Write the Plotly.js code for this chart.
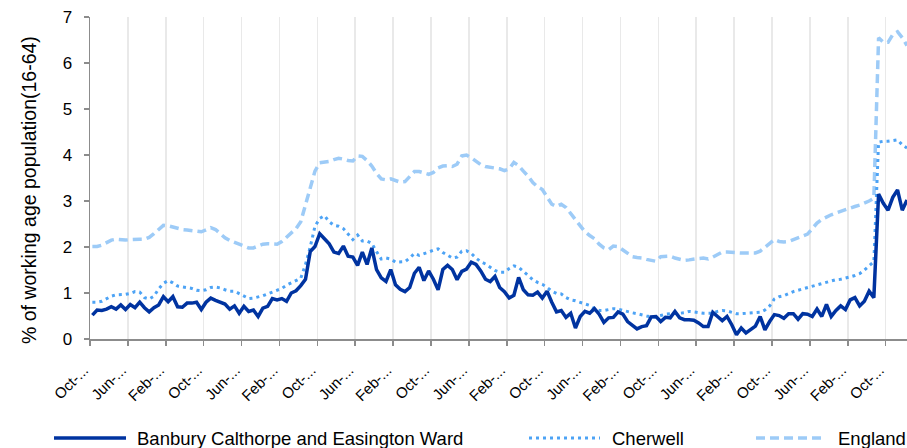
<!DOCTYPE html>
<html>
<head>
<meta charset="utf-8">
<script src="https://cdn.plot.ly/plotly-3.0.1.min.js"></script>
<style>
html,body{margin:0;padding:0;background:#ffffff;}
#chart{width:907px;height:448px;}
</style>
</head>
<body>
<div id="chart"></div>
<script>
// ---- Data ----
const tickLabels = [
  'Oct-...','Jun-...','Feb-...','Oct-...','Jun-...','Feb-...','Oct-...','Jun-...',
  'Feb-...','Oct-...','Jun-...','Feb-...','Oct-...','Jun-...','Feb-...','Oct-...',
  'Jun-...','Feb-...','Oct-...','Jun-...','Feb-...','Oct-...'
];

const seriesNames = ['Banbury Calthorpe and Easington Ward', 'Cherwell', 'England'];
const yTitle = '% of working age population(16-64)';

const banbury = [
  0.52,0.63,0.62,0.65,0.70,0.65,0.74,0.64,0.75,0.68,
  0.80,0.68,0.59,0.68,0.74,0.92,0.81,0.92,0.70,0.69,
  0.78,0.78,0.80,0.64,0.80,0.89,0.84,0.79,0.76,0.65,
  0.72,0.56,0.71,0.60,0.63,0.49,0.67,0.71,0.88,0.85,
  0.88,0.82,1.00,1.05,1.16,1.30,1.90,2.01,2.29,2.18,
  2.07,1.89,1.86,2.02,1.80,1.78,1.60,1.89,1.62,1.98,
  1.51,1.33,1.25,1.51,1.18,1.08,1.03,1.12,1.43,1.56,
  1.27,1.48,1.30,1.07,1.51,1.60,1.51,1.29,1.47,1.52,
  1.67,1.62,1.48,1.30,1.25,1.36,1.12,1.03,0.89,0.95,
  1.34,1.07,0.96,0.95,1.02,0.89,1.04,0.80,0.59,0.62,
  0.47,0.56,0.24,0.49,0.60,0.56,0.66,0.54,0.36,0.46,
  0.47,0.59,0.54,0.38,0.30,0.22,0.27,0.29,0.48,0.49,
  0.38,0.47,0.46,0.60,0.46,0.42,0.42,0.41,0.35,0.27,
  0.27,0.58,0.49,0.40,0.49,0.31,0.09,0.24,0.13,0.20,
  0.28,0.49,0.20,0.38,0.53,0.51,0.45,0.55,0.55,0.43,
  0.55,0.54,0.49,0.65,0.49,0.75,0.49,0.62,0.72,0.64,
  0.85,0.90,0.72,0.82,1.04,0.90,3.15,2.95,2.80,3.08,
  3.24,2.80,3.02
];

const cherwell = [
  0.80,0.80,0.82,0.88,0.93,0.96,0.96,0.97,0.99,1.03,
  1.02,0.90,0.87,0.93,1.09,1.21,1.27,1.22,1.15,1.13,
  1.12,1.10,1.06,1.05,1.07,1.12,1.13,1.11,1.07,1.04,
  1.04,0.99,0.93,0.88,0.89,0.91,0.94,0.98,1.02,1.06,
  1.10,1.17,1.22,1.27,1.32,1.62,2.00,2.45,2.62,2.68,
  2.55,2.47,2.45,2.40,2.28,2.16,2.26,2.13,2.13,2.08,
  1.90,1.74,1.76,1.74,1.67,1.67,1.68,1.76,1.86,1.82,
  1.85,1.89,1.93,1.96,1.88,1.82,1.76,1.78,1.91,1.92,
  1.86,1.76,1.68,1.63,1.56,1.49,1.45,1.45,1.53,1.59,
  1.56,1.47,1.37,1.29,1.23,1.19,1.12,1.04,0.99,0.98,
  0.90,0.85,0.83,0.80,0.77,0.73,0.66,0.62,0.62,0.64,
  0.66,0.65,0.62,0.60,0.57,0.55,0.52,0.50,0.48,0.48,
  0.51,0.54,0.55,0.55,0.56,0.57,0.60,0.59,0.57,0.56,
  0.56,0.56,0.60,0.62,0.61,0.58,0.55,0.55,0.56,0.57,
  0.57,0.58,0.63,0.72,0.87,0.92,0.94,0.99,1.03,1.06,
  1.09,1.12,1.14,1.18,1.21,1.24,1.27,1.29,1.30,1.32,
  1.35,1.38,1.42,1.50,1.58,1.68,4.28,4.30,4.30,4.32,
  4.33,4.22,4.15
];

const england = [
  2.01,2.01,2.04,2.10,2.15,2.17,2.16,2.15,2.16,2.17,
  2.17,2.17,2.21,2.29,2.39,2.47,2.46,2.43,2.40,2.38,
  2.37,2.36,2.34,2.33,2.37,2.42,2.38,2.28,2.20,2.14,
  2.10,2.06,2.02,1.98,1.98,2.03,2.06,2.07,2.06,2.06,
  2.12,2.22,2.31,2.40,2.55,2.90,3.30,3.65,3.83,3.84,
  3.86,3.90,3.93,3.91,3.88,3.87,3.98,3.97,3.88,3.76,
  3.60,3.48,3.46,3.48,3.44,3.41,3.42,3.54,3.64,3.64,
  3.61,3.58,3.62,3.72,3.76,3.77,3.75,3.80,3.98,4.00,
  3.94,3.86,3.79,3.75,3.73,3.72,3.70,3.66,3.70,3.84,
  3.77,3.65,3.54,3.40,3.31,3.25,3.08,2.93,2.88,2.93,
  2.86,2.72,2.59,2.46,2.33,2.25,2.18,2.06,1.98,1.94,
  2.02,2.01,1.94,1.86,1.79,1.77,1.76,1.73,1.71,1.69,
  1.79,1.80,1.80,1.76,1.73,1.71,1.72,1.74,1.75,1.76,
  1.74,1.78,1.84,1.89,1.89,1.88,1.88,1.87,1.87,1.87,
  1.87,1.91,2.00,2.07,2.16,2.12,2.11,2.12,2.16,2.20,
  2.23,2.28,2.40,2.52,2.60,2.66,2.70,2.74,2.78,2.82,
  2.85,2.88,2.91,2.95,3.00,3.06,6.55,6.45,6.45,6.62,
  6.68,6.55,6.38
];

// ---- Styles ----
const FONT = 'Liberation Sans, Arial, Helvetica, sans-serif';
const C_BANBURY = '#0033a0';
const C_CHERWELL = '#4da3f5';
const C_ENGLAND = '#9dcbf7';
const AXIS = '#8c8c8c';

const idx = banbury.map((_, i) => i);
const tickPos = tickLabels.map((_, m) => m * 8 - 0.5);

const lineStyles = [
  {color: C_BANBURY, width: 3.5, dash: 'solid'},
  {color: C_CHERWELL, width: 3, dash: '3px,4px'},
  {color: C_ENGLAND, width: 3.5, dash: '9px,5px'}
];

const traces = [
  {x: idx, y: england, type: 'scatter', mode: 'lines', name: seriesNames[2], line: lineStyles[2]},
  {x: idx, y: cherwell, type: 'scatter', mode: 'lines', name: seriesNames[1], line: lineStyles[1]},
  {x: idx, y: banbury, type: 'scatter', mode: 'lines', name: seriesNames[0], line: lineStyles[0]}
];

// plot area in px (for the hand-drawn legend and the axis title)
const L = 90, R = 907, T = 17, B = 339;
const px = v => (v - L) / (R - L);
const py = v => (B - v) / (B - T);
const legY = py(438);
const legendItems = [
  {x0: 54, x1: 126, tx: 135, style: lineStyles[0], name: seriesNames[0]},
  {x0: 529, x1: 600, tx: 610, style: lineStyles[1], name: seriesNames[1]},
  {x0: 756, x1: 823, tx: 836, style: lineStyles[2], name: seriesNames[2]}
];

const shapes = legendItems.map(it => ({
  type: 'line', xref: 'paper', yref: 'paper',
  x0: px(it.x0), x1: px(it.x1), y0: legY, y1: legY,
  line: {color: it.style.color, width: it.style.width, dash: it.style.dash}
}));
const annotations = legendItems.map(it => ({
  xref: 'paper', yref: 'paper', x: px(it.tx), y: legY,
  xanchor: 'left', yanchor: 'middle', showarrow: false,
  text: it.name, font: {family: FONT, size: 18.5, color: '#000000'}
}));
annotations.push({
  xref: 'paper', yref: 'paper', x: px(29), y: py(190),
  xanchor: 'center', yanchor: 'middle', showarrow: false, textangle: -90,
  text: yTitle, font: {family: FONT, size: 19.5, color: '#000000'}
});

const layout = {
  width: 907, height: 448,
  margin: {l: L, r: 907 - R, t: T, b: 448 - B, pad: 0},
  paper_bgcolor: '#ffffff', plot_bgcolor: '#ffffff',
  showlegend: false,
  font: {family: FONT, color: '#000000'},
  xaxis: {
    range: [-0.5, 172],
    tickmode: 'array', tickvals: tickPos, ticktext: tickLabels,
    tickangle: -45,
    tickfont: {family: FONT, size: 15, color: '#000000'},
    ticks: 'outside', ticklen: 5, tickwidth: 1.5, tickcolor: AXIS,
    ticklabelstandoff: 10, ticklabelshift: -6,
    showline: true, linecolor: AXIS, linewidth: 1.5,
    showgrid: true, gridcolor: '#e9e9e9', gridwidth: 1.5,
    zeroline: false, fixedrange: true
  },
  yaxis: {
    range: [0, 7],
    tickmode: 'array', tickvals: [0,1,2,3,4,5,6,7],
    tickfont: {family: FONT, size: 17, color: '#000000'},
    ticks: 'outside', ticklen: 5, tickwidth: 1.5, tickcolor: AXIS,
    ticklabelstandoff: 8,
    showline: true, linecolor: AXIS, linewidth: 1.5,
    showgrid: false, zeroline: false, fixedrange: true
  },
  shapes: shapes,
  annotations: annotations
};

Plotly.newPlot('chart', traces, layout, {displayModeBar: false, staticPlot: true});
</script>
</body>
</html>
